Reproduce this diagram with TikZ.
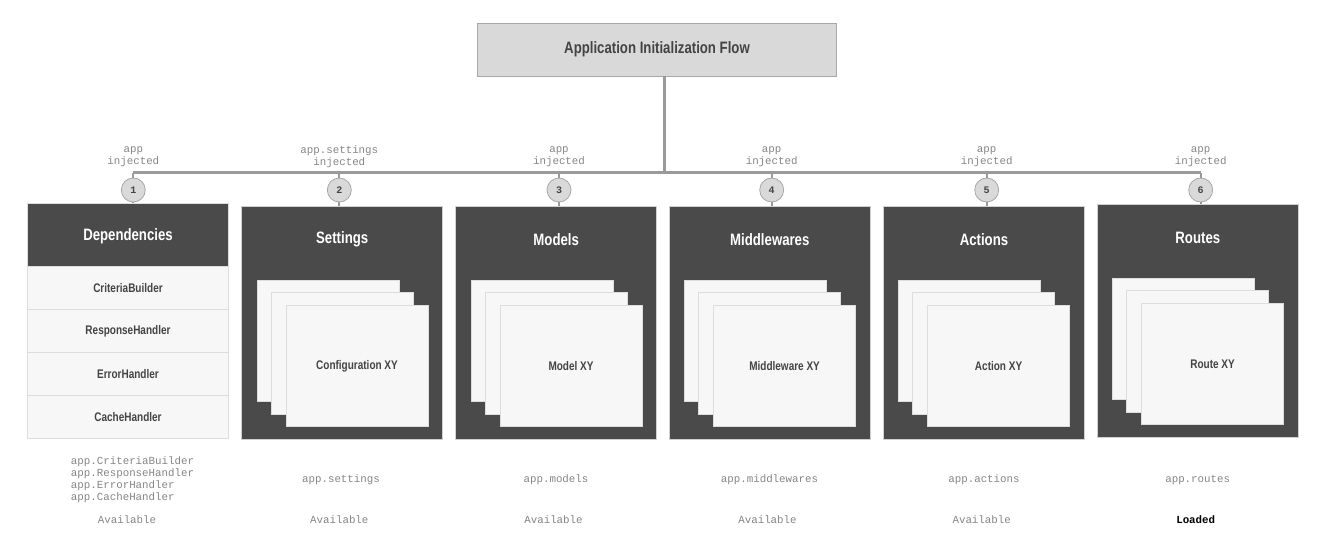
\documentclass[tikz,border=0pt]{standalone}
\usepackage{fontspec}
\setmainfont{Liberation Sans}
\newfontfamily\narrowfont{Liberation Sans}[FakeStretch=0.8]
\setmonofont{Liberation Mono}
\definecolor{panelgray}{HTML}{4A4A4A}
\definecolor{edgegray}{HTML}{D0D0D0}
\definecolor{cardfill}{HTML}{F7F7F7}
\definecolor{cardline}{HTML}{DDDDDD}
\definecolor{titlefill}{HTML}{D9D9D9}
\definecolor{titleline}{HTML}{A8A8A8}
\definecolor{linegray}{HTML}{9A9A9A}
\definecolor{textgray}{HTML}{444444}
\definecolor{monogray}{HTML}{858585}
\begin{document}
\begin{tikzpicture}[x=1pt,y=-1pt,
  every node/.style={inner sep=0pt},
  link/.style={draw=linegray,line width=2.6pt},
  stub/.style={draw=linegray,line width=2.2pt},
  flowtitle/.style={draw=titleline,fill=titlefill,line width=0.8pt,minimum width=359pt,minimum height=52.5pt,
    text=textgray,font=\narrowfont\bfseries\fontsize{16.5}{19}\selectfont},
  stepnum/.style={circle,draw=titleline,fill=titlefill,line width=0.8pt,minimum size=24pt,
    text=textgray,font=\ttfamily\bfseries\fontsize{10}{11}\selectfont},
  panel/.style={draw=edgegray,fill=panelgray,line width=0.8pt,minimum width=201pt,minimum height=233pt},
  head/.style={text=white,font=\narrowfont\bfseries\fontsize{16.5}{19}\selectfont},
  deprow/.style={draw=cardline,fill=cardfill,line width=0.8pt,minimum width=201.4pt,minimum height=42.9pt,
    text=textgray,font=\narrowfont\bfseries\fontsize{12.5}{15}\selectfont},
  card/.style={draw=cardline,fill=cardfill,line width=0.8pt,minimum width=142pt,minimum height=121.5pt},
  cardtext/.style={text=textgray,font=\narrowfont\bfseries\fontsize{12.5}{15}\selectfont},
  mono/.style={text=monogray,align=center,font=\ttfamily\fontsize{10.8}{12}\selectfont}]
\useasboundingbox (0,0) rectangle (1317,555);
\node[flowtitle] (title) at (657,49.7) {Application Initialization Flow};
\coordinate (tt) at (664.3,76);
\coordinate (tb) at (664.3,172.7);
\coordinate (b1) at (133.3,172.7);
\coordinate (b6) at (1200.7,172.7);
\draw[link] (tt) -- (tb);
\draw[link] (b1) -- (b6);
\node[mono] (in1) at (133.3,156.5) {app\\injected};
\node[mono] (in2) at (339.3,156.5) {app.settings\\injected};
\node[mono] (in3) at (559,156.5) {app\\injected};
\node[mono] (in4) at (771.7,156.5) {app\\injected};
\node[mono] (in5) at (986.7,156.5) {app\\injected};
\node[mono] (in6) at (1200.7,156.5) {app\\injected};
\node[draw=cardline,fill=panelgray,line width=0.8pt,minimum width=201.4pt,minimum height=63.4pt] (h1) at (128,235) {};
\node[head] at (128,236.5) {Dependencies};
\node[deprow] (r1) at (128,288.1) {CriteriaBuilder};
\node[deprow] (r2) at (128,331) {ResponseHandler};
\node[deprow] (r3) at (128,373.9) {ErrorHandler};
\node[deprow] (r4) at (128,416.8) {CacheHandler};
\node[panel] (p2) at (342.2,323) {};
\node[head] at (342.2,239.5) {Settings};
\node[card] (s1) at (328,341) {};
\node[card] (s2) at (342,353.3) {};
\node[card] (s3) at (357,366) {};
\node[cardtext] at (s3) {Configuration XY};
\node[panel] (p3) at (556.2,323) {};
\node[head] at (556.2,239.5) {Models};
\node[card] (m1) at (542,341) {};
\node[card] (m2) at (556,353.3) {};
\node[card] (m3) at (571,366) {};
\node[cardtext] at (m3) {Model XY};
\node[panel] (p4) at (769.8,323) {};
\node[head] at (769.8,239.5) {Middlewares};
\node[card] (w1) at (755.6,341) {};
\node[card] (w2) at (769.6,353.3) {};
\node[card] (w3) at (784.6,366) {};
\node[cardtext] at (w3) {Middleware XY};
\node[panel] (p5) at (984,323) {};
\node[head] at (984,239.5) {Actions};
\node[card] (a1) at (969.6,341) {};
\node[card] (a2) at (983.6,353.3) {};
\node[card] (a3) at (998.6,366) {};
\node[cardtext] at (a3) {Action XY};
\node[panel] (p6) at (1197.8,321) {};
\node[head] at (1197.8,237.5) {Routes};
\node[card] (o1) at (1183.6,339) {};
\node[card] (o2) at (1197.6,351.3) {};
\node[card] (o3) at (1212.6,364) {};
\node[cardtext] at (o3) {Route XY};
\node[stepnum] (c1) at (133.3,190) {1};
\node[stepnum] (c2) at (339.3,190) {2};
\node[stepnum] (c3) at (559,190) {3};
\node[stepnum] (c4) at (771.7,190) {4};
\node[stepnum] (c5) at (986.7,190) {5};
\node[stepnum] (c6) at (1200.7,190) {6};
\draw[stub] (c1 |- b1) -- (c1);
\draw[stub] (c1) -- (c1 |- h1.north);
\draw[stub] (c2 |- b1) -- (c2);
\draw[stub] (c2) -- (c2 |- p2.north);
\draw[stub] (c3 |- b1) -- (c3);
\draw[stub] (c3) -- (c3 |- p3.north);
\draw[stub] (c4 |- b1) -- (c4);
\draw[stub] (c4) -- (c4 |- p4.north);
\draw[stub] (c5 |- b1) -- (c5);
\draw[stub] (c5) -- (c5 |- p5.north);
\draw[stub] (c6 |- b1) -- (c6);
\draw[stub] (c6) -- (c6 |- p6.north);
\node[mono,align=left] (out1) at (132.5,480) {app.CriteriaBuilder\\app.ResponseHandler\\app.ErrorHandler\\app.CacheHandler};
\node[mono] (st1) at (127,520) {Available};
\node[mono] (out2) at (341,480) {app.settings};
\node[mono] (st2) at (339.3,520) {Available};
\node[mono] (out3) at (556,480) {app.models};
\node[mono] (st3) at (553.5,520) {Available};
\node[mono] (out4) at (769.5,480) {app.middlewares};
\node[mono] (st4) at (767.5,520) {Available};
\node[mono] (out5) at (984,480) {app.actions};
\node[mono] (st5) at (981.7,520) {Available};
\node[mono] (out6) at (1197.7,480) {app.routes};
\node[mono,text=black,font=\ttfamily\bfseries\fontsize{10.8}{12}\selectfont] (st6) at (1195.7,520) {Loaded};
\end{tikzpicture}
\end{document}
